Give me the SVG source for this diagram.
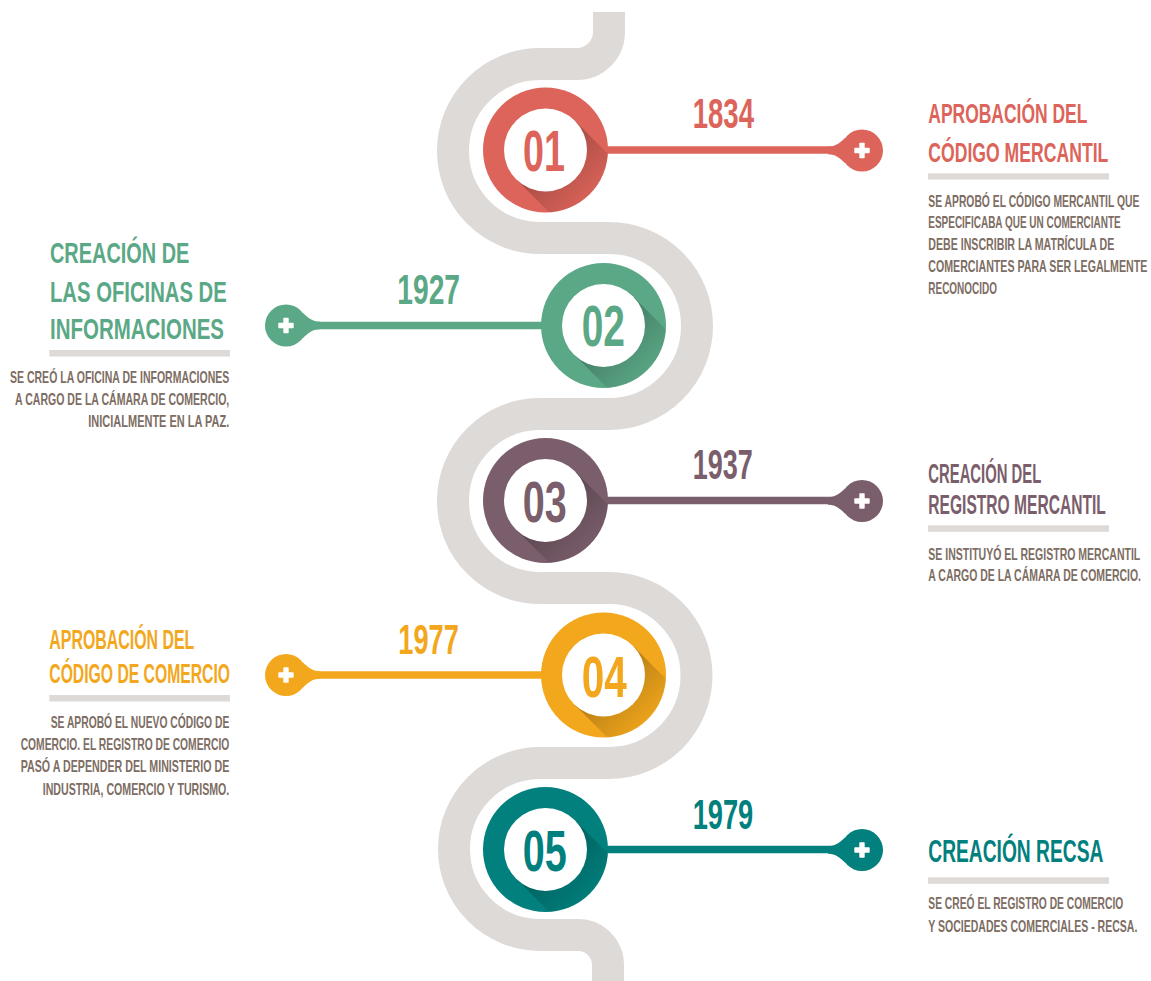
<svg xmlns="http://www.w3.org/2000/svg" xmlns:xlink="http://www.w3.org/1999/xlink" width="1151" height="981" viewBox="0 0 1151 981">
<style>
.road{fill:none;stroke:#dedad8;stroke-width:32}
.t{font-family:"Liberation Sans",Arial,sans-serif}
.num{font-weight:700;font-size:58px;text-anchor:middle}
.yr{font-weight:700;font-size:42px}
.ttl{font-weight:700}
.body{font-size:16.3px;font-weight:700;fill:#7d6d63}
.e{text-anchor:end}
.bar{fill:#dedad8}
.conn{stroke-width:7.5;fill:none}
.red{fill:#dc645a}.green{fill:#5ba886}.purple{fill:#7a5e6b}.orange{fill:#f2a71c}.teal{fill:#01807d}
</style>
<defs>
<clipPath id="cc"><circle cx="0" cy="0" r="62.5"/></clipPath>
<linearGradient id="sh" gradientUnits="userSpaceOnUse" x1="0" y1="0" x2="50" y2="50">
<stop offset="0" stop-color="#000" stop-opacity="0.26"/>
<stop offset="1" stop-color="#000" stop-opacity="0"/>
</linearGradient>
<g id="disc">
<circle cx="0" cy="0" r="62.5"/>
<polygon points="29.3,-29.3 129.3,70.7 70.7,129.3 -29.3,29.3" fill="url(#sh)" clip-path="url(#cc)"/>
<circle cx="0" cy="0" r="41.5" fill="#fff"/>
</g>
<g id="pin">
<circle cx="0" cy="0" r="21"/>
<path d="M-34,-3.8 C-26,-3.8 -22,-8 -17,-12.4 L-17,12.4 C-22,8 -26,3.8 -34,3.8 Z"/>
<rect x="-7.7" y="-2.7" width="15.4" height="5.4" rx="0.8" fill="#fff"/>
<rect x="-2.7" y="-7.7" width="5.4" height="15.4" rx="0.8" fill="#fff"/>
</g>
</defs>
<rect width="1151" height="981" fill="#fff"/>
<path class="road" d="M609,12 V32 A32,32 0 0 1 577,64 H540 A87,87 0 0 0 540,238 H609 A88,88 0 0 1 609,414 H540 A87,87 0 0 0 540,588 H609 A87.5,87.5 0 0 1 609,763 H540 A86,86 0 0 0 540,935 H578 A30,30 0 0 1 608,965 V990"/>
<g id="connectors">
<line class="conn" x1="600" y1="150" x2="836" y2="150" stroke="#dc645a"/>
<line class="conn" x1="312" y1="325.5" x2="550" y2="325.5" stroke="#5ba886"/>
<line class="conn" x1="600" y1="500.5" x2="836" y2="500.5" stroke="#7a5e6b"/>
<line class="conn" x1="312" y1="675" x2="550" y2="675" stroke="#f2a71c"/>
<line class="conn" x1="600" y1="849.5" x2="836" y2="849.5" stroke="#01807d"/>
</g>
<g id="node01" class="t">
<use xlink:href="#disc" class="red" transform="translate(545.5,150)"/>
<use xlink:href="#pin" class="red" transform="translate(862,150.5)"/>
<text class="num red" transform="translate(544,171) scale(0.62,1)" textLength="67.7" lengthAdjust="spacingAndGlyphs">01</text>
<text class="yr red" transform="translate(692.7,128.3) scale(0.62,1)" textLength="98.9" lengthAdjust="spacingAndGlyphs">1834</text>
<text class="ttl red" font-size="28" transform="translate(928.3,123.3) scale(0.62,1)" textLength="256.5" lengthAdjust="spacingAndGlyphs">APROBACIÓN DEL</text>
<text class="ttl red" font-size="28" transform="translate(928.3,161.7) scale(0.62,1)" textLength="290.3" lengthAdjust="spacingAndGlyphs">CÓDIGO MERCANTIL</text>
<rect class="bar" x="928" y="173.3" width="181" height="6.3"/>
<text class="body" transform="translate(928.3,206.5) scale(0.62,1)" textLength="340.3" lengthAdjust="spacingAndGlyphs">SE APROBÓ EL CÓDIGO MERCANTIL QUE</text>
<text class="body" transform="translate(928.3,228.3) scale(0.62,1)" textLength="310.3" lengthAdjust="spacingAndGlyphs">ESPECIFICABA QUE UN COMERCIANTE</text>
<text class="body" transform="translate(928.3,250) scale(0.62,1)" textLength="300" lengthAdjust="spacingAndGlyphs">DEBE INSCRIBIR LA MATRÍCULA DE</text>
<text class="body" transform="translate(928.3,272) scale(0.62,1)" textLength="353.2" lengthAdjust="spacingAndGlyphs">COMERCIANTES PARA SER LEGALMENTE</text>
<text class="body" transform="translate(928.3,294) scale(0.62,1)" textLength="110.8" lengthAdjust="spacingAndGlyphs">RECONOCIDO</text>
</g>
<g id="node02" class="t">
<use xlink:href="#disc" class="green" transform="translate(603.5,325.5)"/>
<use xlink:href="#pin" class="green" transform="translate(286,325.5) scale(-1,1)"/>
<text class="num green" transform="translate(603.3,346) scale(0.62,1)" textLength="69.8" lengthAdjust="spacingAndGlyphs">02</text>
<text class="yr green" transform="translate(397.3,303.5) scale(0.62,1)" textLength="101.1" lengthAdjust="spacingAndGlyphs">1927</text>
<text class="ttl green" font-size="29.5" transform="translate(50,262.7) scale(0.62,1)" textLength="224.7" lengthAdjust="spacingAndGlyphs">CREACIÓN DE</text>
<text class="ttl green" font-size="29.5" transform="translate(50,301.7) scale(0.62,1)" textLength="285" lengthAdjust="spacingAndGlyphs">LAS OFICINAS DE</text>
<text class="ttl green" font-size="29.5" transform="translate(50,339) scale(0.62,1)" textLength="280.6" lengthAdjust="spacingAndGlyphs">INFORMACIONES</text>
<rect class="bar" x="49.3" y="350" width="180.7" height="6.5"/>
<text class="body e" transform="translate(229.3,383.3) scale(0.62,1)" textLength="353.7" lengthAdjust="spacingAndGlyphs">SE CREÓ LA OFICINA DE INFORMACIONES</text>
<text class="body e" transform="translate(229.3,405) scale(0.62,1)" textLength="345.6" lengthAdjust="spacingAndGlyphs">A CARGO DE LA CÁMARA DE COMERCIO,</text>
<text class="body e" transform="translate(229.3,426.7) scale(0.62,1)" textLength="227.4" lengthAdjust="spacingAndGlyphs">INICIALMENTE EN LA PAZ.</text>
</g>
<g id="node03" class="t">
<use xlink:href="#disc" class="purple" transform="translate(545.5,500.5)"/>
<use xlink:href="#pin" class="purple" transform="translate(862,501)"/>
<text class="num purple" transform="translate(544.7,521.5) scale(0.62,1)" textLength="71" lengthAdjust="spacingAndGlyphs">03</text>
<text class="yr purple" transform="translate(692.7,479.3) scale(0.62,1)" textLength="96.8" lengthAdjust="spacingAndGlyphs">1937</text>
<text class="ttl purple" font-size="27" transform="translate(928.3,482.7) scale(0.62,1)" textLength="182.3" lengthAdjust="spacingAndGlyphs">CREACIÓN DEL</text>
<text class="ttl purple" font-size="27" transform="translate(928.3,514.3) scale(0.62,1)" textLength="286.3" lengthAdjust="spacingAndGlyphs">REGISTRO MERCANTIL</text>
<rect class="bar" x="928" y="525.3" width="181" height="6.5"/>
<text class="body" transform="translate(928.3,560) scale(0.62,1)" textLength="341.9" lengthAdjust="spacingAndGlyphs">SE INSTITUYÓ EL REGISTRO MERCANTIL</text>
<text class="body" transform="translate(928.3,581) scale(0.62,1)" textLength="343.1" lengthAdjust="spacingAndGlyphs">A CARGO DE LA CÁMARA DE COMERCIO.</text>
</g>
<g id="node04" class="t">
<use xlink:href="#disc" class="orange" transform="translate(603.5,675)"/>
<use xlink:href="#pin" class="orange" transform="translate(286,675) scale(-1,1)"/>
<text class="num orange" transform="translate(604.3,696.5) scale(0.62,1)" textLength="72.6" lengthAdjust="spacingAndGlyphs">04</text>
<text class="yr orange" transform="translate(398.3,654.3) scale(0.62,1)" textLength="97.6" lengthAdjust="spacingAndGlyphs">1977</text>
<text class="ttl orange" font-size="27" transform="translate(49.3,649.3) scale(0.62,1)" textLength="233.9" lengthAdjust="spacingAndGlyphs">APROBACIÓN DEL</text>
<text class="ttl orange" font-size="27" transform="translate(49.3,683.3) scale(0.62,1)" textLength="291.5" lengthAdjust="spacingAndGlyphs">CÓDIGO DE COMERCIO</text>
<rect class="bar" x="49.3" y="695" width="180.7" height="6.5"/>
<text class="body e" transform="translate(229.3,728.3) scale(0.62,1)" textLength="288.1" lengthAdjust="spacingAndGlyphs">SE APROBÓ EL NUEVO CÓDIGO DE</text>
<text class="body e" transform="translate(229.3,750) scale(0.62,1)" textLength="336.5" lengthAdjust="spacingAndGlyphs">COMERCIO. EL REGISTRO DE COMERCIO</text>
<text class="body e" transform="translate(229.3,772.3) scale(0.62,1)" textLength="336.5" lengthAdjust="spacingAndGlyphs">PASÓ A DEPENDER DEL MINISTERIO DE</text>
<text class="body e" transform="translate(229.3,795) scale(0.62,1)" textLength="301" lengthAdjust="spacingAndGlyphs">INDUSTRIA, COMERCIO Y TURISMO.</text>
</g>
<g id="node05" class="t">
<use xlink:href="#disc" class="teal" transform="translate(545.5,849.5)"/>
<use xlink:href="#pin" class="teal" transform="translate(862,850)"/>
<text class="num teal" transform="translate(544.7,871) scale(0.62,1)" textLength="71" lengthAdjust="spacingAndGlyphs">05</text>
<text class="yr teal" transform="translate(692.7,829.3) scale(0.62,1)" textLength="97.7" lengthAdjust="spacingAndGlyphs">1979</text>
<text class="ttl teal" font-size="31" transform="translate(928.3,861.7) scale(0.62,1)" textLength="282.3" lengthAdjust="spacingAndGlyphs">CREACIÓN RECSA</text>
<rect class="bar" x="928" y="877.3" width="181" height="6.5"/>
<text class="body" transform="translate(928.3,909.3) scale(0.62,1)" textLength="314.5" lengthAdjust="spacingAndGlyphs">SE CREÓ EL REGISTRO DE COMERCIO</text>
<text class="body" transform="translate(928.3,931.7) scale(0.62,1)" textLength="337.1" lengthAdjust="spacingAndGlyphs">Y SOCIEDADES COMERCIALES - RECSA.</text>
</g>
</svg>
